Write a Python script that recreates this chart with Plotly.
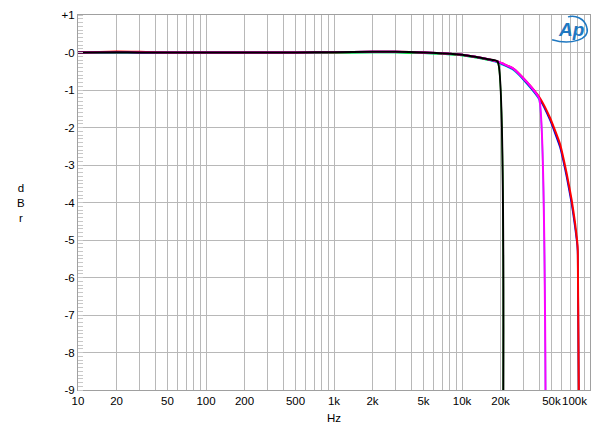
import plotly.graph_objects as go

# shared passband readings (Hz, dB)
base_freq = [10, 20, 30, 50, 100, 200, 500, 1000, 2000, 3000, 5000, 8000, 10000, 13000, 16000, 19000]
base_level = [0.0, 0.01, 0.0, 0.0, 0.0, 0.0, 0.0, 0.01, 0.02, 0.02, 0.0, -0.03, -0.06, -0.12, -0.18, -0.24]

# 44.1k-ish sample rate channel pair (black / green)
fs44_freq = base_freq + [21000]
fs44_level = base_level + [-9.6]
green_level = [-0.02, -0.01, -0.02, -0.02, -0.02, -0.02, -0.02, -0.01, 0.0, 0.0, -0.02, -0.05, -0.08, -0.14, -0.2, -0.26, -9.6]

# 96k channel pair (magenta / cyan)
fs96_freq = base_freq + [25200, 32000, 40000, 45000]
fs96_level = base_level + [-0.43, -0.78, -1.22, -9.6]
cyan_level = [-0.02, -0.01, -0.02, -0.02, -0.02, -0.02, -0.02, -0.01, 0.0, 0.0, -0.02, -0.05, -0.08, -0.14, -0.2, -0.27,
              -0.47, -0.83, -1.26, -9.6]

# 192k channel pair (red / blue)
fs192_freq = base_freq + [25200, 32000, 40700, 48700, 58300, 65800, 71900, 76400, 79600, 80300, 82000]
red_level = [0.0, 0.03, 0.02, 0.0, 0.0, 0.0, 0.0, 0.01, 0.02, 0.02, 0.0, -0.03, -0.06, -0.12, -0.18, -0.24,
             -0.43, -0.78, -1.22, -1.74, -2.44, -3.23, -3.93, -4.54, -5.07, -5.3, -9.6]
blue_level = [0.0, 0.01, 0.0, 0.0, 0.0, 0.0, 0.0, 0.01, 0.02, 0.02, 0.0, -0.03, -0.06, -0.12, -0.18, -0.25,
              -0.45, -0.81, -1.26, -1.8, -2.52, -3.32, -4.03, -4.65, -5.15, -5.4, -9.6]

x_tick_vals = [10, 20, 50, 100, 200, 500, 1000, 2000, 5000, 10000, 20000, 50000, 100000]
x_tick_text = ['10', '20', '50', '100', '200', '500', '1k', '2k', '5k', '10k', '20k', '50k', '']
y_tick_vals = [1, 0, -1, -2, -3, -4, -5, -6, -7, -8, -9]
y_tick_text = ['+1', '-0', '-1', '-2', '-3', '-4', '-5', '-6', '-7', '-8', '-9']

grid_vals = [m * 10 ** e for e in range(1, 5) for m in range(1, 10)] + [100000]

fig = go.Figure()

traces = [
    (fs96_freq, cyan_level, '#00e5ee', 1.6),
    (fs44_freq, green_level, '#00cc00', 1.6),
    (fs192_freq, blue_level, '#0000dd', 1.8),
    (fs192_freq, red_level, '#ff0000', 2),
    (fs96_freq, fs96_level, '#ff00ff', 2),
    (fs44_freq, fs44_level, '#000000', 2),
]
for fx, fy, col, w in traces:
    fig.add_trace(go.Scatter(
        x=fx, y=fy,
        mode='lines',
        line=dict(color=col, width=w, shape='spline', smoothing=0.4),
        showlegend=False,
        hoverinfo='skip'
    ))

font = dict(family='Liberation Sans, Arial, sans-serif', size=11.5, color='#000000')

fig.update_layout(
    width=600,
    height=433,
    margin=dict(l=78, r=10, t=9, b=43),
    paper_bgcolor='white',
    plot_bgcolor='white',
    font=font,
    xaxis=dict(
        type='log',
        range=[1, 5],
        tickvals=grid_vals,
        ticktext=[x_tick_text[x_tick_vals.index(v)] if v in x_tick_vals else '' for v in grid_vals],
        gridcolor='#b8b8b8',
        gridwidth=1,
        showline=True,
        linecolor='#a0a0a0',
        linewidth=1,
        mirror=True,
        ticks='',
        tickfont=font,
        title=dict(text='Hz', font=font, standoff=8),
        zeroline=False,
    ),
    yaxis=dict(
        range=[-9, 1],
        tickvals=y_tick_vals,
        ticktext=y_tick_text,
        gridcolor='#b8b8b8',
        gridwidth=1,
        showline=True,
        linecolor='#a0a0a0',
        linewidth=1,
        mirror=True,
        ticks='',
        ticklen=0,
        tickfont=font,
        zeroline=False,
        minor=dict(dtick=0.1, ticks='inside', ticklen=5, tickcolor='#c8c8c8', showgrid=False),
    ),
)

# right-justified last frequency label
fig.add_annotation(
    text='100k', xref='paper', yref='paper', x=1.0, y=0,
    xanchor='right', yanchor='top', yshift=-3, xshift=-1, showarrow=False, font=font
)

# vertical dBr label
fig.add_annotation(
    text='d<br>B<br>r', xref='paper', yref='paper', x=-0.112, y=0.5,
    xanchor='center', yanchor='middle', showarrow=False, font=font, align='center'
)

# Ap logo
fig.add_annotation(
    text='<b><i>Ap</i></b>', xref='paper', yref='paper', x=0.962, y=0.962,
    xanchor='center', yanchor='middle', showarrow=False,
    font=dict(family='Liberation Sans, Arial, sans-serif', size=19, color='#1f78c1')
)
fig.add_shape(
    type='path', xref='paper', yref='paper',
    path='M 0.926,0.934 C 0.961,0.919 1.0,0.934 0.994,0.966 C 0.990,0.992 0.971,1.0 0.957,0.995',
    line=dict(color='#1f78c1', width=1.5)
)

fig.write_html('out.html', config={'displayModeBar': False},
               post_script="document.body.style.margin='0';")
